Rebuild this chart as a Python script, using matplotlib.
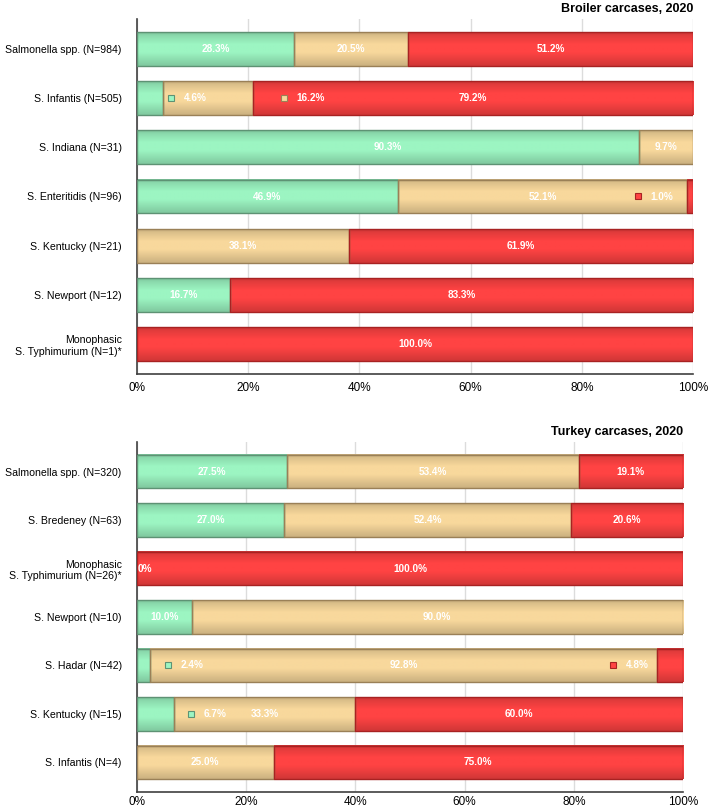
import numpy as np
import matplotlib.pyplot as plt
from matplotlib.colors import to_rgb

plt.rcParams['font.family'] = ['Liberation Sans', 'DejaVu Sans']

# --- data ---
broiler_cats = ["Salmonella spp. (N=984)", "S. Infantis (N=505)", "S. Indiana (N=31)",
                "S. Enteritidis (N=96)", "S. Kentucky (N=21)", "S. Newport (N=12)",
                "Monophasic\nS. Typhimurium (N=1)*"]
broiler_green = [28.3, 4.6, 90.3, 46.9, 0.0, 16.7, 0.0]
broiler_tan = [20.5, 16.2, 9.7, 52.1, 38.1, 0.0, 0.0]
broiler_red = [51.2, 79.2, 0.0, 1.0, 61.9, 83.3, 100.0]

turkey_cats = ["Salmonella spp. (N=320)", "S. Bredeney (N=63)",
               "Monophasic\nS. Typhimurium (N=26)*", "S. Newport (N=10)",
               "S. Hadar (N=42)", "S. Kentucky (N=15)", "S. Infantis (N=4)"]
turkey_green = [27.5, 27.0, 0.0, 10.0, 2.4, 6.7, 0.0]
turkey_tan = [53.4, 52.4, 0.0, 90.0, 92.8, 33.3, 25.0]
turkey_red = [19.1, 20.6, 100.0, 0.0, 4.8, 60.0, 75.0]

ticks = [0, 20, 40, 60, 80, 100]
tick_labels = ["0%", "20%", "40%", "60%", "80%", "100%"]

# small segments labelled off to the side with a marker: (row, series, marker x)
broiler_callouts = [(1, 0, 6.1), (1, 1, 26.4), (3, 2, 90.1)]
turkey_callouts = [(4, 0, 5.7), (4, 2, 87.2), (5, 0, 9.9)]

colors = ["#9cf5c2", "#f8d89c", "#ff4343"]
edges = ["#5e9274", "#9a8057", "#a82222"]

# vertical shading profile of each bar (top -> bottom)
t = np.linspace(0, 1, 40)
shade = np.interp(t, [0, 0.08, 0.35, 0.6, 1.0], [0.78, 0.88, 1.0, 1.0, 0.82])

fig = plt.figure(figsize=(7.09, 8.10), dpi=100)


def panel(rect, cats, series, callouts, title, zero_label_rows, xpad):
    ax = fig.add_axes(rect)
    n = len(cats)
    h = 0.69
    for i in range(n):
        left = 0.0
        for s, vals in enumerate(series):
            v = vals[i]
            if v <= 0:
                continue
            rgb = np.array(to_rgb(colors[s]))
            img = np.clip(shade[:, None, None] * rgb[None, None, :], 0, 1)
            ax.imshow(img, extent=(left, left + v, i + h / 2, i - h / 2),
                      aspect='auto', interpolation='bilinear', zorder=2)
            ax.barh(i, v, left=left, height=h, fill=False, edgecolor=edges[s],
                    linewidth=1, zorder=3)
            called = [c for c in callouts if c[0] == i and c[1] == s]
            if called:
                mx = called[0][2]
                ax.plot(mx, i, marker='s', markersize=5, color=colors[s],
                        markeredgecolor=edges[s], markeredgewidth=0.8, zorder=4)
                ax.text(mx + 2.3, i, f"{v:.1f}%", color='white', fontsize=7.2,
                        fontweight='bold', ha='left', va='center', zorder=5)
            else:
                ax.text(left + v / 2, i, f"{v:.1f}%", color='white', fontsize=7.2,
                        fontweight='bold', ha='center', va='center', zorder=5)
            left += v
    # label of the zero-width segment, mostly hidden behind the axis edge
    for i in zero_label_rows:
        ax.text(0.1, i, "0%", color='white', fontsize=7.2, fontweight='bold',
                ha='left', va='center', zorder=5, clip_on=True)
    ax.set_xlim(0, 100)
    ax.set_ylim(n - 1 + 0.61, -0.61)
    ax.set_yticks(range(n))
    ax.set_yticklabels(cats, fontsize=7.6)
    ax.set_xticks(ticks)
    ax.set_xticklabels(tick_labels, fontsize=8.5)
    ax.tick_params(length=0)
    ax.tick_params(axis='x', pad=xpad)
    ax.tick_params(axis='y', pad=11)
    ax.grid(axis='x', color='#dcdcdc', linewidth=1, zorder=0)
    ax.set_axisbelow(True)
    for sp in ['top', 'right']:
        ax.spines[sp].set_visible(False)
    for sp in ['left', 'bottom']:
        ax.spines[sp].set_color('#404040')
        ax.spines[sp].set_linewidth(1.2)
    ax.set_title(title, loc='right', fontsize=9, fontweight='bold', pad=5)
    return ax


W, H = 709, 810
panel([137 / W, 1 - 374 / H, 556 / W, 355 / H], broiler_cats,
      [broiler_green, broiler_tan, broiler_red], broiler_callouts,
      "Broiler carcases, 2020", [], 6)
panel([137 / W, 1 - 792 / H, 546 / W, 350 / H], turkey_cats,
      [turkey_green, turkey_tan, turkey_red], turkey_callouts,
      "Turkey carcases, 2020", [2], 3)

fig.savefig("out.png", dpi=100)
